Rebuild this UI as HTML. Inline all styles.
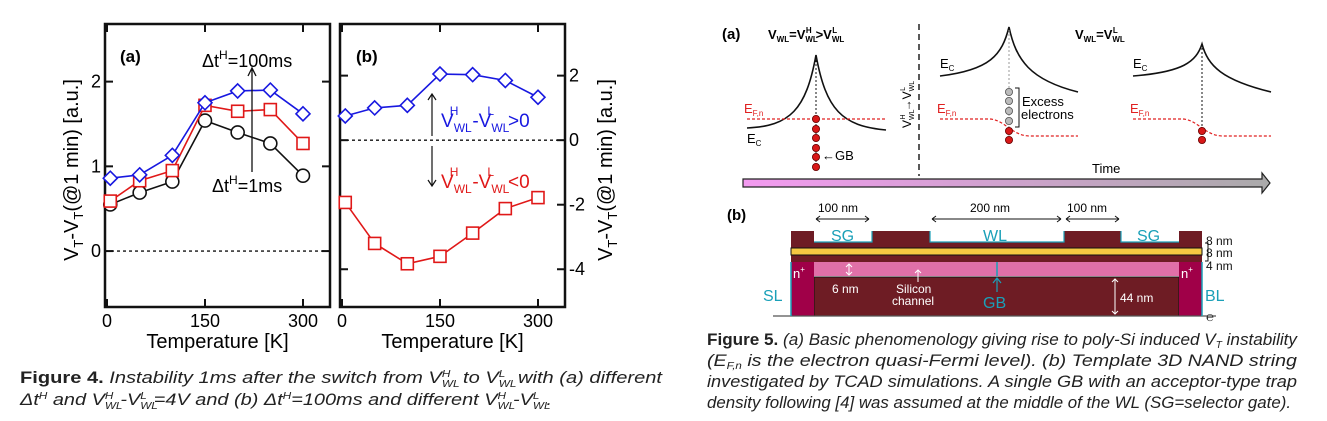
<!DOCTYPE html>
<html><head><meta charset="utf-8"><style>
html,body{margin:0;padding:0;background:#fff;width:1327px;height:421px;overflow:hidden}
svg{display:block;font-family:"Liberation Sans",Arial,sans-serif}
.cap{font-size:17px;font-style:italic;fill:#222}
</style></head><body>
<svg id="fig" width="1327" height="421" viewBox="0 0 1327 421">
<g id="charts"></g>
<g id="diagram">
 <!-- (a) band diagrams -->
 <text x="722" y="39" font-size="15" font-weight="bold">(a)</text>
 <text x="768" y="39" font-size="13" font-weight="bold">V<tspan font-size="8" dy="3">WL</tspan><tspan dy="-3">=V</tspan><tspan font-size="8" dy="3">WL</tspan><tspan font-size="8" dx="-12" dy="-9">H</tspan><tspan dx="4" dy="6">&gt;V</tspan><tspan font-size="8" dy="3">WL</tspan><tspan font-size="8" dx="-12" dy="-9">L</tspan></text>
 <text x="1075" y="39" font-size="13" font-weight="bold">V<tspan font-size="8" dy="3">WL</tspan><tspan dy="-3">=V</tspan><tspan font-size="8" dy="3">WL</tspan><tspan font-size="8" dx="-12" dy="-9">L</tspan></text>
 <line x1="919" y1="24" x2="919" y2="176" stroke="#222" stroke-width="1.5" stroke-dasharray="6,4"/>
 <text transform="translate(911,128) rotate(-90)" font-size="12">V<tspan font-size="7" dy="3">WL</tspan><tspan font-size="7" dx="-10" dy="-9">H</tspan><tspan dx="3" dy="6">→V</tspan><tspan font-size="7" dy="3">WL</tspan><tspan font-size="7" dx="-10" dy="-9">L</tspan></text>
 <!-- panel 1 -->
 <path d="M747,128 C790,126 806,110 816,55 C826,110 842,126 886,130" fill="none" stroke="#111" stroke-width="1.6"/>
 <line x1="747" y1="119" x2="886" y2="119" stroke="#e02020" stroke-width="1.2" stroke-dasharray="3,2"/>
 <line x1="816" y1="60" x2="816" y2="168" stroke="#111" stroke-dasharray="2,2"/>
 <g fill="#d81818" stroke="#600" stroke-width="0.8">
  <circle cx="816" cy="119" r="3.6"/><circle cx="816" cy="129" r="3.6"/><circle cx="816" cy="138" r="3.6"/><circle cx="816" cy="148" r="3.6"/><circle cx="816" cy="157" r="3.6"/><circle cx="816" cy="167" r="3.6"/>
 </g>
 <text x="744" y="113" font-size="13" fill="#e02020">E<tspan font-size="8" dy="3">F,n</tspan></text>
 <text x="747" y="143" font-size="13">E<tspan font-size="8" dy="3">C</tspan></text>
 <text x="822" y="160" font-size="13">←GB</text>
 <!-- panel 2 -->
 <path d="M940,76 C990,70 1002,55 1009,27 C1016,60 1030,80 1078,92" fill="none" stroke="#111" stroke-width="1.6"/>
 <path d="M940,119 L990,119 C1005,120 1012,136 1030,136 L1078,136" fill="none" stroke="#e02020" stroke-width="1.2" stroke-dasharray="3,2"/>
 <line x1="1009" y1="30" x2="1009" y2="140" stroke="#999" stroke-dasharray="2,2"/>
 <g fill="#bbb" stroke="#555" stroke-width="0.8">
  <circle cx="1009" cy="92" r="3.6"/><circle cx="1009" cy="101" r="3.6"/><circle cx="1009" cy="111" r="3.6"/><circle cx="1009" cy="121" r="3.6"/>
 </g>
 <g fill="#d81818" stroke="#600" stroke-width="0.8"><circle cx="1009" cy="131" r="3.6"/><circle cx="1009" cy="140" r="3.6"/></g>
 <path d="M1015,88 h4 v39 h-4" fill="none" stroke="#111"/>
 <text x="1022" y="106" font-size="13">Excess</text>
 <text x="1021" y="119" font-size="13">electrons</text>
 <text x="937" y="113" font-size="13" fill="#e02020">E<tspan font-size="8" dy="3">F,n</tspan></text>
 <text x="940" y="68" font-size="13">E<tspan font-size="8" dy="3">C</tspan></text>
 <!-- panel 3 -->
 <path d="M1133,76 C1183,72 1196,62 1202,44 C1208,66 1222,80 1271,92" fill="none" stroke="#111" stroke-width="1.6"/>
 <path d="M1133,119 L1183,119 C1198,120 1205,136 1223,136 L1271,136" fill="none" stroke="#e02020" stroke-width="1.2" stroke-dasharray="3,2"/>
 <line x1="1202" y1="48" x2="1202" y2="140" stroke="#111" stroke-dasharray="2,2"/>
 <g fill="#d81818" stroke="#600" stroke-width="0.8"><circle cx="1202" cy="131" r="3.6"/><circle cx="1202" cy="140" r="3.6"/></g>
 <text x="1130" y="113" font-size="13" fill="#e02020">E<tspan font-size="8" dy="3">F,n</tspan></text>
 <text x="1133" y="68" font-size="13">E<tspan font-size="8" dy="3">C</tspan></text>
 <!-- time arrow -->
 <defs><linearGradient id="tg" x1="0" x2="1"><stop offset="0" stop-color="#f39af0"/><stop offset="1" stop-color="#aaa"/></linearGradient></defs>
 <path d="M743,179 L1262,179 L1262,173 L1270,183 L1262,193 L1262,187 L743,187 Z" fill="url(#tg)" stroke="#222" stroke-width="1.2"/>
 <text x="1092" y="173" font-size="13">Time</text>
 <!-- (b) cross-section -->
 <text x="727" y="220" font-size="15" font-weight="bold">(b)</text>
 <g font-size="12">
  <text x="818" y="212">100 nm</text><text x="970" y="212">200 nm</text><text x="1067" y="212">100 nm</text>
  <path d="M816,219 H869 M816,219 l4,-3 M816,219 l4,3 M869,219 l-4,-3 M869,219 l-4,3" stroke="#111" fill="none"/>
  <path d="M932,219 H1061 M932,219 l4,-3 M932,219 l4,3 M1061,219 l-4,-3 M1061,219 l-4,3" stroke="#111" fill="none"/>
  <path d="M1066,219 H1119 M1066,219 l4,-3 M1066,219 l4,3 M1119,219 l-4,-3 M1119,219 l-4,3" stroke="#111" fill="none"/>
 </g>
 <path d="M791,231 H814 V242 H872 V231 H930 V242 H1064 V231 H1121 V242 H1179 V231 H1202 V262 H791 Z" fill="#6e1c24"/>
 <path d="M814,242 H872 V231 M930,231 V242 H1064 V231 M1121,231 V242 H1179" fill="none" stroke="#1aa0b8" stroke-width="1.2"/>
 <rect x="791" y="248" width="411" height="7" fill="#f5c842" stroke="#111" stroke-width="1"/>
 <rect x="791" y="262" width="411" height="14" fill="#e070a8"/>
 <rect x="814" y="277" width="365" height="39" fill="#6e1c24" stroke="#111"/>
 <rect x="791" y="262" width="23" height="54" fill="#a00048"/>
 <rect x="1179" y="262" width="23" height="54" fill="#a00048"/>
 <line x1="773" y1="316" x2="1216" y2="316" stroke="#555" stroke-width="1.2"/>
 <line x1="791" y1="262" x2="791" y2="316" stroke="#1aa0b8" stroke-width="1.5"/>
 <line x1="1202" y1="262" x2="1202" y2="316" stroke="#1aa0b8" stroke-width="1.5"/>
 <line x1="997" y1="262" x2="997" y2="276" stroke="#1aa0b8" stroke-width="1.5"/>
 <g font-size="16" fill="#1aa0b8">
  <text x="831" y="241">SG</text>
  <text x="983" y="241">WL</text>
  <text x="1137" y="241">SG</text>
  <text x="763" y="301">SL</text>
  <text x="1205" y="301">BL</text>
  <text x="983" y="308">GB</text>
 </g>
 <path d="M997,292 V279 M993,283 L997,278 L1001,283" stroke="#1aa0b8" fill="none" stroke-width="1.2"/>
 <g font-size="12" fill="#111"><text x="1206" y="245">8 nm</text><text x="1206" y="257">8 nm</text><text x="1206" y="270">4 nm</text></g>
 <path d="M1205,243 h3 v18 h-3" fill="none" stroke="#111"/>
 <g font-size="13" fill="#fff">
  <text x="793" y="278">n<tspan font-size="8" dy="-6">+</tspan></text>
  <text x="1181" y="278">n<tspan font-size="8" dy="-6">+</tspan></text>
  <text x="832" y="293" font-size="12">6 nm</text>
  <text x="896" y="293" font-size="12">Silicon</text>
  <text x="892" y="305" font-size="12">channel</text>
  <text x="1120" y="302" font-size="12">44 nm</text>
 </g>
 <path d="M849,264 V275 M846,267 l3,-3 l3,3 M846,272 l3,3 l3,-3 M918,282 V270 M915,273 l3,-3 l3,3 M1115,279 V314 M1112,282 l3,-3 l3,3 M1112,311 l3,3 l3,-3" stroke="#fff" fill="none"/>
 <text x="1206" y="321" font-size="13" fill="#333">℮</text>
 <!-- caption fig5 -->
 <g class="cap" font-size="16">
  <text x="707" y="345" textLength="590" lengthAdjust="spacingAndGlyphs"><tspan font-weight="bold" font-style="normal">Figure 5.</tspan> (a) Basic phenomenology giving rise to poly-Si induced V<tspan font-size="10" dy="3">T</tspan><tspan dy="-3"> instability</tspan></text>
  <text x="707" y="366" textLength="590" lengthAdjust="spacingAndGlyphs">(E<tspan font-size="10" dy="3">F,n</tspan><tspan dy="-3"> is  the  electron  quasi-Fermi  level).  (b)  Template  3D  NAND  string</tspan></text>
  <text x="707" y="387" textLength="590" lengthAdjust="spacingAndGlyphs">investigated by TCAD simulations. A single GB with an acceptor-type trap</text>
  <text x="707" y="408" textLength="584" lengthAdjust="spacingAndGlyphs">density following [4] was assumed at the middle of the WL (SG=selector gate).</text>
 </g>
</g>
<g class="cap" font-size="16">
 <text x="20" y="383" textLength="642" lengthAdjust="spacingAndGlyphs"><tspan font-weight="bold" font-style="normal">Figure 4.</tspan> Instability 1ms after the switch from V<tspan font-size="10" dy="4">WL</tspan><tspan font-size="10" dx="-15" dy="-10">H</tspan><tspan dx="6" dy="6"> to V</tspan><tspan font-size="10" dy="4">WL</tspan><tspan font-size="10" dx="-15" dy="-10">L</tspan><tspan dx="6" dy="6"> with (a) different</tspan></text>
 <text x="20" y="405" textLength="532" lengthAdjust="spacingAndGlyphs">Δt<tspan font-size="10" dy="-6">H</tspan><tspan dy="6"> and V</tspan><tspan font-size="10" dy="4">WL</tspan><tspan font-size="10" dx="-15" dy="-10">H</tspan><tspan dx="6" dy="6">-V</tspan><tspan font-size="10" dy="4">WL</tspan><tspan font-size="10" dx="-15" dy="-10">L</tspan><tspan dx="6" dy="6">=4V and (b) Δt</tspan><tspan font-size="10" dy="-6">H</tspan><tspan dy="6">=100ms and different V</tspan><tspan font-size="10" dy="4">WL</tspan><tspan font-size="10" dx="-15" dy="-10">H</tspan><tspan dx="6" dy="6">-V</tspan><tspan font-size="10" dy="4">WL</tspan><tspan font-size="10" dx="-15" dy="-10">L</tspan><tspan dx="6" dy="6">.</tspan></text>
</g>
</svg>
<script>
const temps = [5, 50, 100, 150, 200, 250, 300];
const aBlue = [0.86, 0.90, 1.13, 1.75, 1.89, 1.90, 1.62];
const aRed = [0.59, 0.83, 0.95, 1.72, 1.65, 1.67, 1.27];
const aBlack = [0.55, 0.69, 0.82, 1.54, 1.40, 1.27, 0.89];
const bBlue = [0.75, 1.00, 1.08, 2.05, 2.03, 1.85, 1.33];
const bRed = [-1.93, -3.20, -3.83, -3.60, -2.88, -2.12, -1.78];
const xTicks = [0, 150, 300];
const aTicks = [0, 1, 2];
const bTicks = [-4, -2, 0, 2];

const NS = 'http://www.w3.org/2000/svg';
const root = document.getElementById('charts');
function mk(tag, attrs, parent) {
  const e = document.createElementNS(NS, tag);
  for (const k in attrs) e.setAttribute(k, attrs[k]);
  (parent || root).appendChild(e);
  return e;
}
function panel(x0, x1, ymin, ymax, name) {
  const top = 24, bot = 307;
  const sx = v => x0 + 2 + (v - 0) * (x1 - x0 - 28) / 300 * 0.6533 / ((x1 - x0 - 28) / 300);
  const X = v => x0 + 2 + v * 0.6533;
  const Y = v => bot - (v - ymin) / (ymax - ymin) * (bot - top);
  return {X, Y, top, bot, x0, x1, name};
}
const pa = panel(105, 330, -0.66, 2.68, 'a');
const pb = panel(340, 565, -5.17, 3.6, 'b');

function frame(p, yTicks, side) {
  const f = mk('rect', {x: p.x0, y: p.top, width: p.x1 - p.x0, height: p.bot - p.top, fill: 'none', stroke: '#111', 'stroke-width': 2.5});
  
  
  xTicks.forEach(t => {
    const x = p.X(t);
    mk('line', {x1: x, y1: p.bot, x2: x, y2: p.bot - 8, stroke: '#111', 'stroke-width': 2});
    mk('line', {x1: x, y1: p.top, x2: x, y2: p.top + 8, stroke: '#111', 'stroke-width': 2});
    const tl = mk('text', {x: x, y: 327, 'font-size': 18, 'text-anchor': 'middle'});
    tl.textContent = t;
    
    
  });
  yTicks.forEach(t => {
    const y = p.Y(t);
    mk('line', {x1: p.x0, y1: y, x2: p.x0 + 8, y2: y, stroke: '#111', 'stroke-width': 2});
    mk('line', {x1: p.x1, y1: y, x2: p.x1 - 8, y2: y, stroke: '#111', 'stroke-width': 2});
    const tl = mk('text', {x: side === 'left' ? p.x0 - 4 : p.x1 + 4, y: y + 6, 'font-size': 18, 'text-anchor': side === 'left' ? 'end' : 'start'});
    tl.textContent = t;
    
    
  });
  const z = mk('line', {x1: p.x0, y1: p.Y(0), x2: p.x1, y2: p.Y(0), stroke: '#111', 'stroke-width': 1.3, 'stroke-dasharray': '3,3'});
  
  
  const xt = mk('text', {x: (p.x0 + p.x1) / 2, y: 348, 'font-size': 20, 'text-anchor': 'middle'});
  xt.textContent = 'Temperature [K]';
  
  
}
function series(p, vals, color, marker, name) {
  const pts = temps.map((t, i) => [p.X(t), p.Y(vals[i])]);
  const pl = mk('polyline', {points: pts.map(q => q.join(',')).join(' '), fill: 'none', stroke: color, 'stroke-width': 1.6});
  
  
  pts.forEach(([x, y]) => {
    let m;
    if (marker === 'diamond') m = mk('polygon', {points: `${x},${y-7} ${x+7},${y} ${x},${y+7} ${x-7},${y}`, fill: '#fff', stroke: color, 'stroke-width': 1.6});
    else if (marker === 'square') m = mk('rect', {x: x - 6, y: y - 6, width: 12, height: 12, fill: '#fff', stroke: color, 'stroke-width': 1.6});
    else m = mk('circle', {cx: x, cy: y, r: 6.5, fill: '#fff', stroke: color, 'stroke-width': 1.6});
    
    
  });
}
frame(pa, aTicks, 'left');
frame(pb, bTicks, 'right');
series(pa, aBlack, '#111', 'circle', 'a-dt-1ms');
series(pa, aRed, '#e01818', 'square', 'a-dt-10ms');
series(pa, aBlue, '#1818e0', 'diamond', 'a-dt-100ms');
series(pb, bBlue, '#1818e0', 'diamond', 'b-positive');
series(pb, bRed, '#e01818', 'square', 'b-negative');

function txt(x, y, html, attrs, name) {
  const t = mk('text', Object.assign({x: x, y: y}, attrs || {}));
  t.innerHTML = html;
  
  
  return t;
}
txt(120, 62, '(a)', {'font-size': 17, 'font-weight': 'bold'}, 'panel-a-label');
txt(356, 62, '(b)', {'font-size': 17, 'font-weight': 'bold'}, 'panel-b-label');
txt(202, 67, 'Δt<tspan font-size="12" dy="-8">H</tspan><tspan dy="8">=100ms</tspan>', {'font-size': 18}, 'annotation-100ms');
txt(212, 192, 'Δt<tspan font-size="12" dy="-8">H</tspan><tspan dy="8">=1ms</tspan>', {'font-size': 18}, 'annotation-1ms');
mk('path', {d: 'M252,172 V68 M248,76 L252,68 L256,76', stroke: '#111', fill: 'none', 'stroke-width': 1.3});
txt(441, 127, 'V<tspan font-size="12" dy="5">WL</tspan><tspan font-size="12" dx="-22" dy="-17">H</tspan><tspan dx="14" dy="12">-V</tspan><tspan font-size="12" dy="5">WL</tspan><tspan font-size="12" dx="-22" dy="-17">L</tspan><tspan dx="14" dy="12">&gt;0</tspan>', {'font-size': 19, fill: '#1818e0'}, 'label-positive');
txt(441, 188, 'V<tspan font-size="12" dy="5">WL</tspan><tspan font-size="12" dx="-22" dy="-17">H</tspan><tspan dx="14" dy="12">-V</tspan><tspan font-size="12" dy="5">WL</tspan><tspan font-size="12" dx="-22" dy="-17">L</tspan><tspan dx="14" dy="12">&lt;0</tspan>', {'font-size': 19, fill: '#e01818'}, 'label-negative');
mk('path', {d: 'M432,136 V94 M428,100 L432,94 L436,100 M432,146 V186 M428,180 L432,186 L436,180', stroke: '#111', fill: 'none', 'stroke-width': 1.2});
txt(0, 0, 'V<tspan font-size="13" dy="5">T</tspan><tspan dy="-5">-V</tspan><tspan font-size="13" dy="5">T</tspan><tspan dy="-5">(@1 min) [a.u.]</tspan>', {'font-size': 20, transform: 'translate(78,170) rotate(-90)', 'text-anchor': 'middle'}, 'y-axis-title-a');
txt(0, 0, 'V<tspan font-size="13" dy="5">T</tspan><tspan dy="-5">-V</tspan><tspan font-size="13" dy="5">T</tspan><tspan dy="-5">(@1 min) [a.u.]</tspan>', {'font-size': 20, transform: 'translate(612,170) rotate(-90)', 'text-anchor': 'middle'}, 'y-axis-title-b');
</script>
</body></html>
